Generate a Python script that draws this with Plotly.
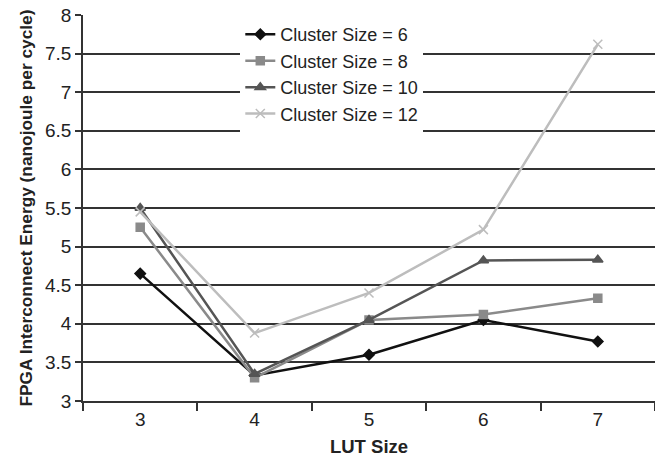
import plotly.graph_objects as go

lut_sizes = ["3", "4", "5", "6", "7"]
cluster6 = [4.65, 3.33, 3.60, 4.05, 3.77]
cluster8 = [5.25, 3.30, 4.05, 4.12, 4.33]
cluster10 = [5.50, 3.35, 4.05, 4.82, 4.83]
cluster12 = [5.45, 3.88, 4.40, 5.22, 7.62]
series_names = ["Cluster Size = 6", "Cluster Size = 8", "Cluster Size = 10", "Cluster Size = 12"]
y_ticks = [3, 3.5, 4, 4.5, 5, 5.5, 6, 6.5, 7, 7.5, 8]

styles = [
    dict(color="#111111", symbol="diamond", size=8),
    dict(color="#8a8a8a", symbol="square", size=8),
    dict(color="#555555", symbol="triangle-up", size=9),
    dict(color="#bdbdbd", symbol="x-thin", size=9),
]

fig = go.Figure()
for name, vals, st in zip(series_names, [cluster6, cluster8, cluster10, cluster12], styles):
    fig.add_trace(go.Scatter(
        x=lut_sizes, y=vals, name=name, mode="lines+markers",
        line=dict(color=st["color"], width=2.5),
        marker=dict(color=st["color"], symbol=st["symbol"], size=st["size"],
                    line=dict(color=st["color"], width=1.5)),
    ))

fig.update_layout(
    width=655, height=462,
    margin=dict(l=83, r=0, t=15, b=61),
    paper_bgcolor="white", plot_bgcolor="white",
    font=dict(family="Liberation Sans, Arial, sans-serif", color="#222222"),
    legend=dict(x=0.275, y=0.997, xanchor="left", yanchor="top",
                bgcolor="white", font=dict(size=18, color="#222222"),
                tracegroupgap=0, itemwidth=30),
    xaxis=dict(
        type="category", range=[-0.5, 4.5],
        showline=True, linecolor="#333333", linewidth=1.5,
        ticks="outside", ticklen=8, tickcolor="#333333", tickwidth=1.5,
        tickson="boundaries", showgrid=False,
        tickfont=dict(size=19, color="#222222"),
        title=dict(text="<b>LUT Size</b>", font=dict(size=18.5, color="#222222"), standoff=12),
    ),
    yaxis=dict(
        range=[3, 8], tickvals=y_ticks, ticktext=[f"{v:g}" for v in y_ticks],
        showline=True, linecolor="#333333", linewidth=1.5,
        ticks="outside", ticklen=6, tickcolor="#333333", tickwidth=1.5,
        showgrid=True, gridcolor="#333333", gridwidth=1.5, zeroline=False,
        tickfont=dict(size=19, color="#222222"),
        title=dict(text="<b>FPGA Interconnect Energy (nanojoule per cycle)</b>",
                   font=dict(size=17.3, color="#222222"), standoff=8),
    ),
)

fig.write_html("out.html", config={"displayModeBar": False},
               post_script="document.body.style.margin='0';document.body.style.padding='0';")
